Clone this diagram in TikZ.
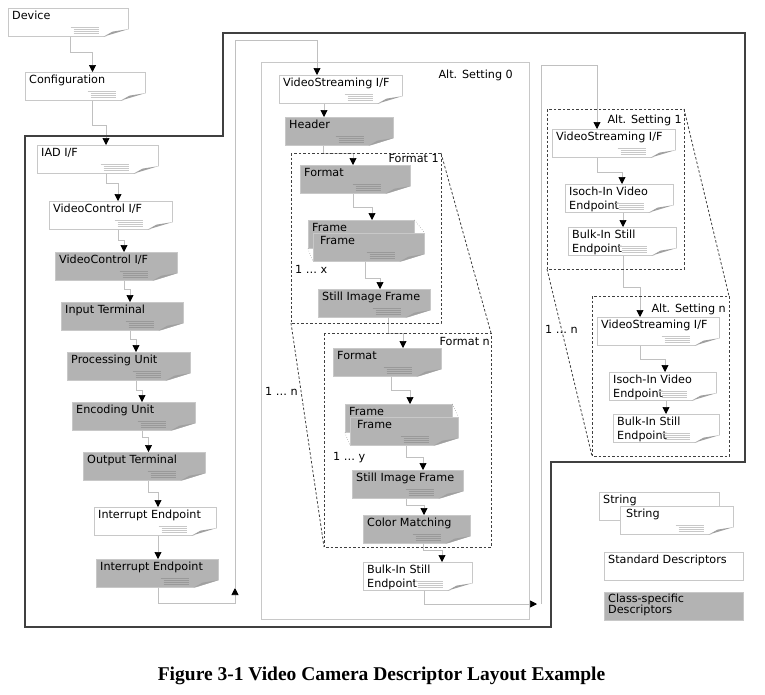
\documentclass[tikz,border=0pt]{standalone}
\usepackage{fontspec}
\usetikzlibrary{arrows.meta}
\newfontfamily\dvfont{DejaVu Sans}
\newfontfamily\capfont{Liberation Serif}
\definecolor{boxline}{HTML}{C8C8C8}
\definecolor{clsgray}{HTML}{B3B3B3}
\definecolor{connline}{HTML}{C0C0C0}
\definecolor{framedark}{HTML}{404040}
\definecolor{foldgray}{HTML}{A0A0A0}
\definecolor{ruleon}{HTML}{C8C8C8}
\definecolor{ruleongray}{HTML}{999999}

\begin{document}
\begin{tikzpicture}[x=1pt, y=-1pt,
  font=\dvfont\fontsize{11.2}{13.5}\selectfont,
  docbox/.style={draw=boxline, fill=white, line width=0.6pt, anchor=north west,
    minimum height=28pt, inner sep=0pt},
  cls/.style={fill=clsgray},
  ttl/.style={anchor=north west, inner xsep=4pt, inner ysep=3pt, align=left},
  conn/.style={draw=connline, line width=0.7pt,
    -{Triangle[color=black, length=7pt, width=7pt]}},
  grp/.style={draw=framedark, line width=0.8pt, dash pattern=on 2.5pt off 2pt},
  grplbl/.style={inner sep=0pt}]
  \useasboundingbox (0,0) rectangle (765,694);
  \fill[white] (0,0) rectangle (765,694);

  % alt setting 0 box
  \draw[boxline, line width=0.8pt] (261,62) rectangle (529,619);

  % left column
  \node[docbox, minimum width=120pt, label={[ttl]north west:Device}] (dev) at (8,8) {};
  \node[docbox, minimum width=120pt, label={[ttl]north west:Configuration}] (cfg) at (25,72) {};
  \node[docbox, minimum width=121pt, label={[ttl]north west:IAD I/F}] (iad) at (37,145) {};
  \node[docbox, minimum width=123pt, label={[ttl]north west:VideoControl I/F}] (vc1) at (49,201) {};
  \node[docbox, cls, minimum width=122pt, label={[ttl]north west:VideoControl I/F}] (vc2) at (55,252) {};
  \node[docbox, cls, minimum width=122pt, label={[ttl]north west:Input Terminal}] (it) at (61,302) {};
  \node[docbox, cls, minimum width=123pt, label={[ttl]north west:Processing Unit}] (pu) at (67,352) {};
  \node[docbox, cls, minimum width=123pt, label={[ttl]north west:Encoding Unit}] (eu) at (72,402) {};
  \node[docbox, cls, minimum width=122pt, label={[ttl]north west:Output Terminal}] (ot) at (83,452) {};
  \node[docbox, minimum width=122pt, label={[ttl]north west:Interrupt Endpoint}] (ie1) at (94,507) {};
  \node[docbox, cls, minimum width=122pt, label={[ttl]north west:Interrupt Endpoint}] (ie2) at (96,559) {};

  % alt setting 0
  \node[docbox, minimum width=123pt, label={[ttl]north west:VideoStreaming I/F}] (vs0) at (279,75) {};
  \node[docbox, cls, minimum width=108pt, label={[ttl]north west:Header}] (hdr) at (285,117) {};
  \node[docbox, cls, minimum width=110pt, label={[ttl]north west:Format}] (fmt1) at (300,165) {};
  \node[docbox, cls, minimum width=106pt, label={[ttl]north west:Frame}] (frm1b) at (308,220) {};
  \node[docbox, cls, minimum width=111pt, label={[ttl, xshift=3pt]north west:Frame}] (frm1) at (313,233) {};
  \node[docbox, cls, minimum width=112pt, label={[ttl]north west:Still Image Frame}] (sif1) at (318,289) {};
  \node[docbox, cls, minimum width=108pt, label={[ttl]north west:Format}] (fmtn) at (333,348) {};
  \node[docbox, cls, minimum width=107pt, label={[ttl]north west:Frame}] (frmnb) at (345,404) {};
  \node[docbox, cls, minimum width=108pt, label={[ttl, xshift=3pt]north west:Frame}] (frmn) at (350,417) {};
  \node[docbox, cls, minimum width=111pt, label={[ttl]north west:Still Image Frame}] (sifn) at (352,470) {};
  \node[docbox, cls, minimum width=107pt, label={[ttl]north west:Color Matching}] (cm) at (363,515) {};
  \node[docbox, minimum width=109pt, label={[ttl]north west:Bulk-In Still\\Endpoint}] (bulk0) at (363,562) {};

  % alt settings 1 .. n
  \node[docbox, minimum width=123pt, label={[ttl]north west:VideoStreaming I/F}] (vs1) at (552,129) {};
  \node[docbox, minimum width=108pt, label={[ttl]north west:Isoch-In Video\\Endpoint}] (iso1) at (565,184) {};
  \node[docbox, minimum width=108pt, label={[ttl]north west:Bulk-In Still\\Endpoint}] (bulk1) at (568,227) {};
  \node[docbox, minimum width=122pt, label={[ttl]north west:VideoStreaming I/F}] (vsn) at (597,317) {};
  \node[docbox, minimum width=107pt, label={[ttl]north west:Isoch-In Video\\Endpoint}] (ison) at (609,372) {};
  \node[docbox, minimum width=106pt, label={[ttl]north west:Bulk-In Still\\Endpoint}] (bulkn) at (613,414) {};

  % legend
  \node[docbox, minimum width=120pt, label={[ttl]north west:String}] (strb) at (599,492) {};
  \node[docbox, minimum width=113pt, label={[ttl, xshift=2pt]north west:String}] (str) at (620,506) {};
  \node[docbox, minimum width=139pt, label={[ttl]north west:Standard Descriptors}] (std) at (604,552) {};
  \node[docbox, cls, minimum width=139pt, label={[ttl, inner ysep=1.5pt]north west:Class-specific\\[-2pt]Descriptors}] (clsd) at (604,592) {};

  % folded corners
  \foreach \n/\rc in {dev/ruleon,cfg/ruleon,iad/ruleon,vc1/ruleon,ie1/ruleon,vs0/ruleon,
      bulk0/ruleon,vs1/ruleon,iso1/ruleon,bulk1/ruleon,vsn/ruleon,ison/ruleon,bulkn/ruleon,str/ruleon,
      vc2/ruleongray,it/ruleongray,pu/ruleongray,eu/ruleongray,ot/ruleongray,ie2/ruleongray,
      hdr/ruleongray,fmt1/ruleongray,frm1/ruleongray,sif1/ruleongray,fmtn/ruleongray,
      frmn/ruleongray,sifn/ruleongray,cm/ruleongray}{
    \fill[white] ([xshift=0.6pt,yshift=7.5pt]\n.south east) -- ([xshift=0.6pt,yshift=-0.6pt]\n.south east)
       -- ([xshift=-25pt,yshift=-0.6pt]\n.south east) -- cycle;
    \fill[foldgray] ([yshift=7.5pt]\n.south east) -- ([xshift=-16pt,yshift=5pt]\n.south east)
       -- ([xshift=-25pt]\n.south east) -- cycle;
    \draw[\rc, line width=0.5pt] ([xshift=-58pt,yshift=9pt]\n.south east) -- ([xshift=-30pt,yshift=9pt]\n.south east);
    \foreach \h in {3,5,7}
      \draw[\rc, line width=0.5pt] ([xshift=-55pt,yshift=\h pt]\n.south east) -- ([xshift=-30pt,yshift=\h pt]\n.south east);
  }

  % stacked frames
  \draw[dotted, framedark] (frm1b.north east) -- (frm1.north east);
  \draw[dotted, framedark] (frm1b.south west) -- (frm1.south west);
  \draw[dotted, framedark] (frmnb.north east) -- (frmn.north east);
  \draw[dotted, framedark] (frmnb.south west) -- (frmn.south west);

  % connectors, left column
  \draw[conn] ([xshift=62pt]dev.south west) -- ++(0,16) -| ([xshift=67.5pt]cfg.north west);
  \draw[conn] ([xshift=67.5pt]cfg.south west) -- ++(0,25) -| ([xshift=69pt]iad.north west);
  \draw[conn] ([xshift=69pt]iad.south west) -- ++(0,10) -| ([xshift=69pt]vc1.north west);
  \draw[conn] ([xshift=69pt]vc1.south west) -- ++(0,11) -| ([xshift=69pt]vc2.north west);
  \draw[conn] ([xshift=69pt]vc2.south west) -- ++(0,9) -| ([xshift=69pt]it.north west);
  \draw[conn] ([xshift=69pt]it.south west) -- ++(0,9) -| ([xshift=69pt]pu.north west);
  \draw[conn] ([xshift=69pt]pu.south west) -- ++(0,10) -| ([xshift=70pt]eu.north west);
  \draw[conn] ([xshift=70pt]eu.south west) -- ++(0,7) -| ([xshift=65.5pt]ot.north west);
  \draw[conn] ([xshift=65.5pt]ot.south west) -- ++(0,12) -| ([xshift=64pt]ie1.north west);
  \draw[conn] ([xshift=64pt]ie1.south west) -- ([xshift=62pt]ie2.north west);

  % over to alt setting 0
  \coordinate (up0) at (235,588);
  \draw[conn] (up0) |- ([xshift=38pt,yshift=35pt]vs0.north west) -- ([xshift=38pt]vs0.north west);
  \draw[conn] ([xshift=62pt]ie2.south west) -- ++(0,16) -| (up0);

  % connectors, alt setting 0
  \draw[conn] ([xshift=45pt]vs0.south west) -- ([xshift=39pt]hdr.north west);
  \draw[conn] ([xshift=38pt]hdr.south west) -- ++(0,8) -| ([xshift=53pt]fmt1.north west);
  \draw[conn] ([xshift=53pt]fmt1.south west) -- ++(0,14) -| ([xshift=64pt]frm1b.north west);
  \draw[conn] ([xshift=52pt]frm1.south west) -- ++(0,17) -| ([xshift=62pt]sif1.north west);
  \draw[conn] ([xshift=70pt]sif1.south west) -- ++(0,16) -| ([xshift=70pt]fmtn.north west);
  \draw[conn] ([xshift=58pt]fmtn.south west) -- ++(0,14) -| ([xshift=65pt]frmnb.north west);
  \draw[conn] ([xshift=56pt]frmn.south west) -- ++(0,12) -| ([xshift=71pt]sifn.north west);
  \draw[conn] ([xshift=54pt]sifn.south west) -- ++(0,7) -| ([xshift=61pt]cm.north west);
  \draw[conn] ([xshift=60pt]cm.south west) -- ++(0,7) -| ([xshift=79pt]bulk0.north west);
  \coordinate (out0) at (537,604);
  \coordinate (turn0) at (541,604);
  \draw[conn] ([xshift=61pt]bulk0.south west) |- (out0);

  % connectors, alt settings 1 .. n
  \draw[conn] (turn0) |- ([xshift=45pt,yshift=64pt]vs1.north west) -- ([xshift=45pt]vs1.north west);
  \draw[conn] ([xshift=45pt]vs1.south west) -- ++(0,15) -| ([xshift=57pt]iso1.north west);
  \draw[conn] ([xshift=58pt]iso1.south west) -- ([xshift=55pt]bulk1.north west);
  \draw[conn] ([xshift=55pt]bulk1.south west) -- ++(0,32) -| ([xshift=43pt]vsn.north west);
  \draw[conn] ([xshift=43pt]vsn.south west) -- ++(0,14) -| ([xshift=56pt]ison.north west);
  \draw[conn] ([xshift=57pt]ison.south west) -- ([xshift=53pt]bulkn.north west);

  % interface outline
  \draw[framedark, line width=1.4pt] (25,136) -- (223,136) -- (223,33) -- (745,33)
     -- (745,462) -- (551,462) -- (551,627) -- (25,627) -- cycle;

  % formats and alt settings
  \draw[grp] (291,153) rectangle (441,323);
  \draw[grp] (324,333) rectangle (491,547);
  \draw[grp] (441,153) -- (491,333);
  \draw[grp] (291,323) -- (324,547);
  \draw[grp] (547,109) rectangle (684,269);
  \draw[grp] (592,296) rectangle (729,456);
  \draw[grp] (684,109) -- (729,296);
  \draw[grp] (547,269) -- (592,456);

  \node[grplbl, anchor=base east] (alt0lbl) at (513,78) {Alt. Setting 0};
  \node[grplbl, anchor=base east] (fmt1lbl) at (439,162) {Format 1};
  \node[grplbl, anchor=base east] (fmtnlbl) at (490,345) {Format n};
  \node[grplbl, anchor=base east] (alt1lbl) at (682,123) {Alt. Setting 1};
  \node[grplbl, anchor=base east] (altnlbl) at (726,312) {Alt. Setting n};
  \node[grplbl, anchor=base west] (cntx) at (295,273) {1 … x};
  \node[grplbl, anchor=base west] (cnty) at (333,460) {1 … y};
  \node[grplbl, anchor=base west] (cntn) at (265,395) {1 … n};
  \node[grplbl, anchor=base west] (cntalt) at (545,333) {1 … n};

  \node[font=\capfont\bfseries\fontsize{19.5}{22}\selectfont, anchor=base] (cap) at (381.5,680)
    {Figure 3-1 Video Camera Descriptor Layout Example};
\end{tikzpicture}
\end{document}
